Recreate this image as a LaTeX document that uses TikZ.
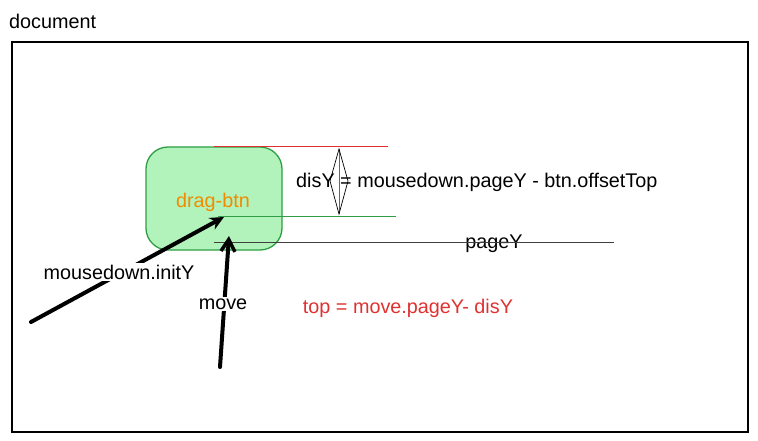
\documentclass[tikz,border=0pt]{standalone}
\usepackage{fontspec}
\setmainfont{Liberation Sans}
\usetikzlibrary{arrows.meta}
\definecolor{gfill}{HTML}{B2F2BB}
\definecolor{gdraw}{HTML}{2F9E44}
\definecolor{orng}{HTML}{F08C00}
\definecolor{rred}{HTML}{E03131}
\begin{document}
\begin{tikzpicture}[x=1pt,y=-1pt,
  txt/.style={font=\fontsize{19.8}{23}\selectfont, inner sep=1pt},
  lbl/.style={txt, fill=white, inner sep=2pt},
  thickarrow/.style={line width=4pt, line cap=round},
  guide/.style={line width=1pt}]
\useasboundingbox (0,0) rectangle (758,441);
% document frame
\node[txt, anchor=west] (doclabel) at (8,21) {document};
\draw[line width=1.4pt] (12,42) rectangle (748,432);
% button
\node[draw=gdraw, fill=gfill, line width=1.3pt, rounded corners=22pt,
  minimum width=136pt, minimum height=103pt] (btn) at (214,198.5) {};
\node[txt, text=orng] (btnlabel) at (213,202) {drag-btn};
% guide lines
\coordinate (rA) at (214,147); \coordinate (rB) at (388,147);
\coordinate (gA) at (218,216); \coordinate (gB) at (396,216);
\coordinate (kA) at (214,242); \coordinate (kB) at (614,242);
\draw[guide, rred] (rA) -- (rB);
\draw[guide, gdraw] (gA) -- (gB);
\node[txt] (pagey) at (494,244) {pageY};
\draw[guide, black!75] (kA) -- (kB);
% double arrow
\coordinate (dT) at (339,149); \coordinate (dB) at (339,214);
\coordinate (dL) at (330,181); \coordinate (dR) at (348,181);
\draw[line width=0.8pt, black!60] (dT) -- (dB);
\draw[line width=0.7pt] (dT) -- (dL) -- (dB) -- (dR) -- cycle;
\node[txt, anchor=west] (disy) at (295,182) {disY = mousedown.pageY - btn.offsetTop};
% arrows
\coordinate (a1s) at (31,322); \coordinate (a1e) at (224,217);
\draw[thickarrow, -{Stealth[length=14pt,width=13pt]}] (a1s) -- (a1e);
\node[lbl] (initY) at (119,272) {mousedown.initY};
\coordinate (a2s) at (220,367); \coordinate (a2e) at (229,236);
\draw[thickarrow, -{Straight Barb[length=12pt,width=14pt,line width=3.5pt]}] (a2s) -- (a2e);
\node[lbl] (move) at (223,304) {move};
\node[txt, text=rred] (top) at (408,308) {top = move.pageY- disY};
\end{tikzpicture}
\end{document}
